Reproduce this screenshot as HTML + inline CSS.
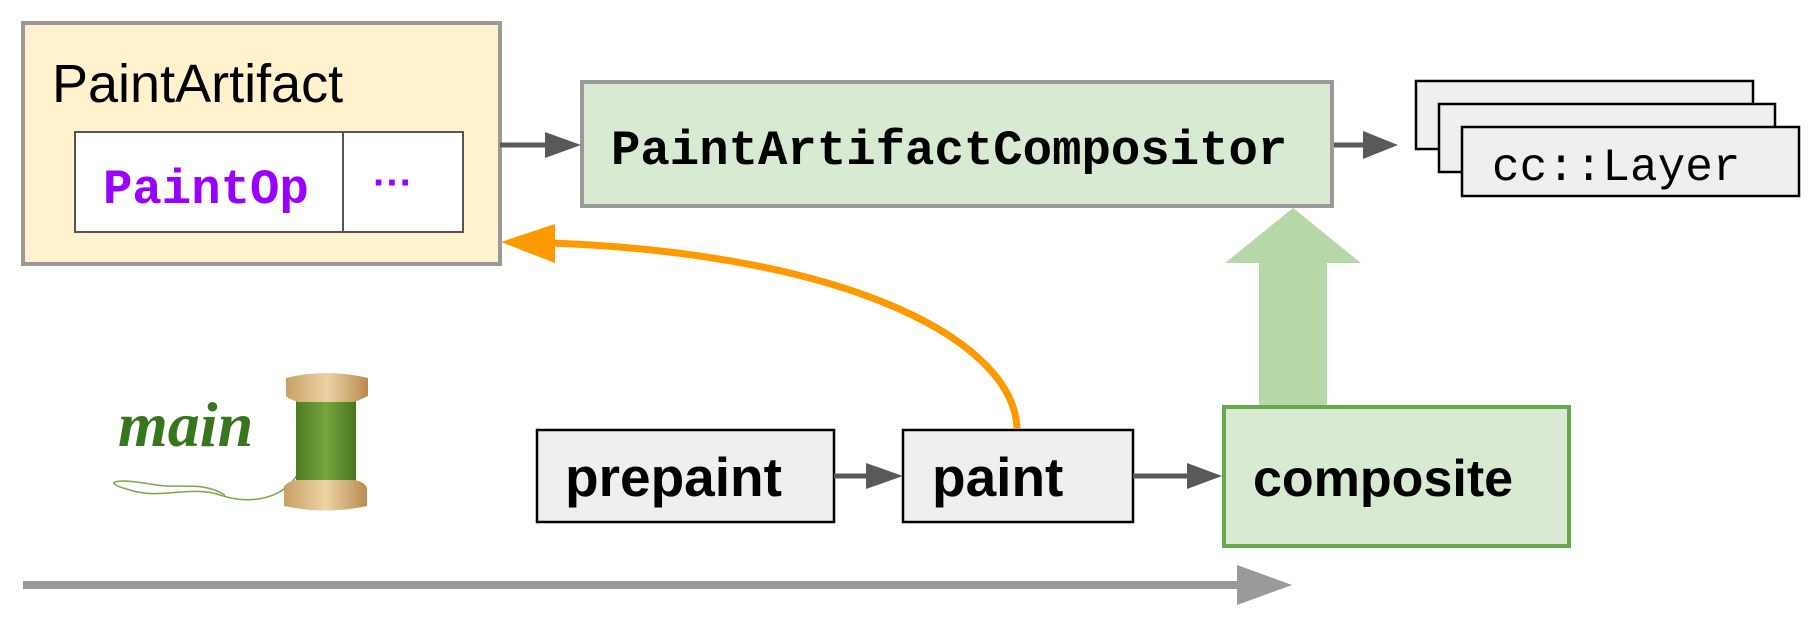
<!DOCTYPE html>
<html><head><meta charset="utf-8"><style>
html,body{margin:0;padding:0;background:#fff;}
svg{display:block}
</style></head><body>
<svg width="1816" height="640" viewBox="0 0 1816 640" xmlns="http://www.w3.org/2000/svg">
<defs>
<linearGradient id="wood" x1="0" x2="1" y1="0" y2="0">
<stop offset="0" stop-color="#c9a066"/><stop offset="0.5" stop-color="#ecd3a4"/><stop offset="1" stop-color="#b88a50"/>
</linearGradient>
<linearGradient id="thr" x1="0" x2="1" y1="0" y2="0">
<stop offset="0" stop-color="#4e7a22"/><stop offset="0.5" stop-color="#77a540"/><stop offset="1" stop-color="#4a751f"/>
</linearGradient>
</defs>
<rect x="23" y="23" width="477" height="241" fill="#fff2cc" stroke="#999" stroke-width="4"/>
<text x="52" y="102" font-family="Liberation Sans, sans-serif" font-size="54" fill="#000">PaintArtifact</text>
<rect x="75" y="132" width="388" height="100" fill="#fff" stroke="#555" stroke-width="2"/>
<line x1="343" y1="132" x2="343" y2="232" stroke="#555" stroke-width="2"/>
<text x="103" y="203" font-family="Liberation Mono, monospace" font-weight="bold" font-size="49" fill="#9900ff">PaintOp</text>
<text x="393" y="196" text-anchor="middle" font-family="Liberation Sans, sans-serif" font-weight="bold" font-size="40" fill="#9900ff">···</text>
<line x1="500" y1="145" x2="550" y2="145" stroke="#595959" stroke-width="5"/>
<polygon points="545,132 581,145 545,158" fill="#595959"/>
<rect x="582" y="82" width="750" height="124" fill="#d9ead3" stroke="#999" stroke-width="4"/>
<text x="611" y="164" font-family="Liberation Mono, monospace" font-weight="bold" font-size="49" fill="#000">PaintArtifactCompositor</text>
<line x1="1334" y1="145" x2="1370" y2="145" stroke="#595959" stroke-width="5"/>
<polygon points="1363,131 1398,145 1363,159" fill="#595959"/>
<rect x="1416" y="81" width="337" height="68" fill="#efefef" stroke="#000" stroke-width="2.5"/>
<rect x="1439" y="104" width="336" height="68" fill="#efefef" stroke="#000" stroke-width="2.5"/>
<rect x="1462" y="127" width="337" height="69" fill="#efefef" stroke="#000" stroke-width="2.5"/>
<text x="1492" y="180" font-family="Liberation Mono, monospace" font-size="46" fill="#000">cc::Layer</text>
<polygon points="1293,208 1361,263 1327,263 1327,405 1259,405 1259,263 1225,263" fill="#b6d7a8"/>
<rect x="1224" y="407" width="345" height="139" fill="#d9ead3" stroke="#6aa84f" stroke-width="4"/>
<text x="1253" y="496" font-family="Liberation Sans, sans-serif" font-weight="bold" font-size="52" fill="#000">composite</text>
<rect x="537" y="430" width="297" height="92" fill="#efefef" stroke="#000" stroke-width="2.5"/>
<text x="565" y="496" font-family="Liberation Sans, sans-serif" font-weight="bold" font-size="55" fill="#000">prepaint</text>
<rect x="903" y="430" width="230" height="92" fill="#efefef" stroke="#000" stroke-width="2.5"/>
<text x="932" y="496" font-family="Liberation Sans, sans-serif" font-weight="bold" font-size="55" fill="#000">paint</text>
<line x1="834" y1="476" x2="870" y2="476" stroke="#595959" stroke-width="5"/>
<polygon points="866,463 903,476 866,489" fill="#595959"/>
<line x1="1133" y1="476" x2="1190" y2="476" stroke="#595959" stroke-width="5"/>
<polygon points="1187,463 1222,476 1187,489" fill="#595959"/>
<path d="M1017,429 C1015,345 860,255 552,243" fill="none" stroke="#ff9900" stroke-width="7"/>
<polygon points="501,242 555,224 555,263" fill="#ff9900"/>
<line x1="23" y1="585" x2="1240" y2="585" stroke="#999" stroke-width="8"/>
<polygon points="1237,565 1292,585 1237,605" fill="#999"/>
<text x="118" y="446" font-family="Liberation Serif, serif" font-style="italic" font-weight="bold" font-size="64" fill="#38761d">main</text>
<path d="M300,470 C285,500 250,505 220,495 C190,485 160,500 130,490 C100,482 115,478 150,484 C180,490 200,480 225,495" fill="none" stroke="#7aa84a" stroke-width="1.5"/>
<rect x="296" y="398" width="60" height="88" fill="url(#thr)"/>
<path d="M286,378 Q326,368 368,378 L368,396 Q355,402 354,402 L298,402 Q287,398 286,396 Z" fill="url(#wood)"/>
<path d="M284,486 Q290,480 298,480 L354,480 Q365,482 367,488 L367,506 Q326,515 284,506 Z" fill="url(#wood)"/>
</svg>
</body></html>
